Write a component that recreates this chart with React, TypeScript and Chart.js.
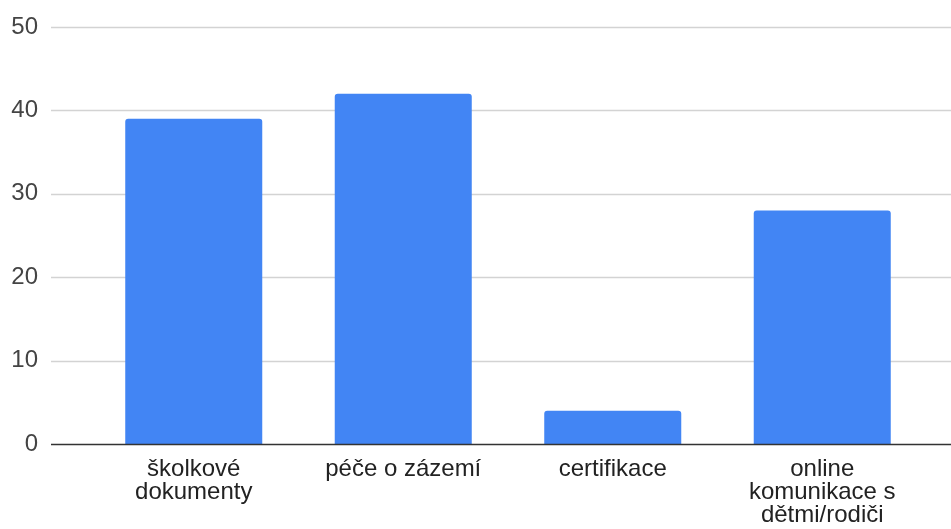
import React, { useEffect, useRef } from "react";
import { Chart, registerables } from "chart.js";

Chart.register(...registerables);

const categories: string[][] = [
  ["školkové", "dokumenty"],
  ["péče o zázemí"],
  ["certifikace"],
  ["online", "komunikace s", "dětmi/rodiči"],
];
const values: number[] = [39, 42, 4, 28];
const yMin = 0;
const yMax = 50;
const yStep = 10;

const gridPlugin = {
  id: "fullGrid",
  beforeDatasetsDraw(chart: any) {
    const { ctx } = chart;
    const y = chart.scales.y;
    ctx.save();
    ctx.strokeStyle = "#d3d3d3";
    ctx.lineWidth = 1.5;
    y.ticks.forEach((t: any) => {
      if (t.value === 0) return;
      const py = Math.round(y.getPixelForValue(t.value)) + 0.5;
      ctx.beginPath();
      ctx.moveTo(51, py);
      ctx.lineTo(chart.width, py);
      ctx.stroke();
    });
    ctx.restore();
  },
  afterDatasetsDraw(chart: any) {
    const { ctx } = chart;
    const y = chart.scales.y;
    const py = Math.round(y.getPixelForValue(0)) + 0.5;
    ctx.save();
    ctx.strokeStyle = "#333333";
    ctx.lineWidth = 1.5;
    ctx.beginPath();
    ctx.moveTo(51, py);
    ctx.lineTo(chart.width, py);
    ctx.stroke();
    ctx.restore();
  },
};

export default function App() {
  const ref = useRef<HTMLCanvasElement | null>(null);
  useEffect(() => {
    if (!ref.current) return;
    const chart = new Chart(ref.current, {
      type: "bar",
      data: {
        labels: categories,
        datasets: [
          {
            data: values,
            backgroundColor: "#4285F4",
            borderRadius: { topLeft: 3, topRight: 3, bottomLeft: 0, bottomRight: 0 },
            borderSkipped: "start",
            barPercentage: 0.654,
            categoryPercentage: 1,
          },
        ],
      },
      options: {
        responsive: false,
        animation: false,
        layout: { padding: { top: 27, right: 24, left: 0, bottom: 0 } },
        plugins: { legend: { display: false }, tooltip: { enabled: false } },
        scales: {
          x: {
            grid: { display: false, drawTicks: false },
            border: { display: false },
            ticks: {
              autoSkip: false,
              maxRotation: 0,
              minRotation: 0,
              padding: 14,
              color: "#222222",
              font: { family: "'Liberation Sans', Arial, sans-serif", size: 24, lineHeight: 0.95 },
            },
            afterFit: (s: any) => {
              s.height = 85;
              s.paddingTop = 0;
              s.paddingBottom = 0;
            },
          },
          y: {
            min: yMin,
            max: yMax,
            grid: { display: false, drawTicks: false },
            border: { display: false },
            ticks: {
              stepSize: yStep,
              padding: 51,
              color: "#444444",
              font: { family: "'Liberation Sans', Arial, sans-serif", size: 24 },
            },
            afterFit: (s: any) => {
              s.width = 89;
              s.paddingTop = 0;
              s.paddingBottom = 0;
            },
          },
        },
      },
      plugins: [gridPlugin],
    });
    return () => chart.destroy();
  }, []);
  return (
    <div style={{ position: "absolute", left: 0, top: 0, width: 951, height: 529, background: "#fff" }}>
      <canvas ref={ref} width={951} height={529} />
    </div>
  );
}
